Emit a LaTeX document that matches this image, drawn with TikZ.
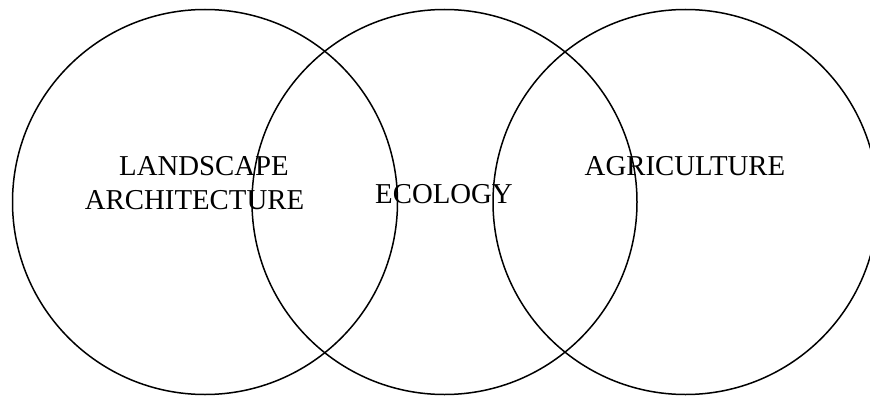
\documentclass[tikz,border=0pt]{standalone}
\usepackage{fontspec}
\setmainfont{Liberation Serif}

\begin{document}
\begin{tikzpicture}[x=1pt, y=-1pt, line width=1.5pt,
    label/.style={font=\fontsize{28.8}{34}\selectfont, inner sep=0pt, anchor=base}]
    \clip (0,0) rectangle (870,396);

    % Circles
    \coordinate (land) at (205,202);
    \coordinate (eco) at (444.5,202);
    \coordinate (agri) at (685.5,202);
    \draw (land) circle (192.5);
    \draw (eco) circle (192.5);
    \draw (agri) circle (192.5);

    % Labels
    \node[label] (landscape) at (204,175) {LANDSCAPE};
    \node[label] (architecture) at (194.5,209) {ARCHITECTURE};
    \node[label] (ecology) at (444,203) {ECOLOGY};
    \node[label] (agriculture) at (685,175) {AGRICULTURE};
\end{tikzpicture}
\end{document}
